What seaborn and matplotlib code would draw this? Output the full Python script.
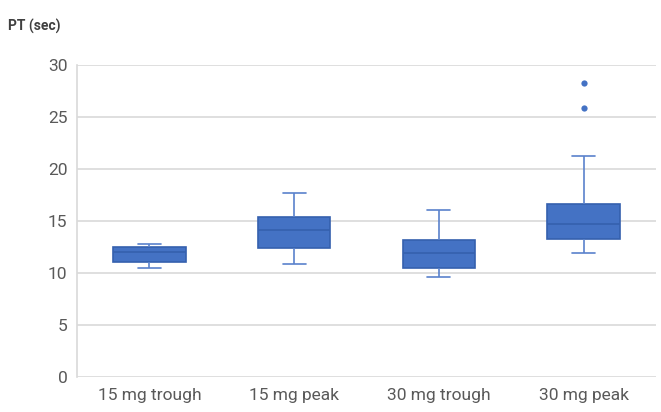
import matplotlib
matplotlib.use('Agg')
import matplotlib.pyplot as plt
import pandas as pd
import seaborn as sns

# five-number summaries (whisker low, Q1, median, Q3, whisker high)
groups = ['15 mg trough', '15 mg peak', '30 mg trough', '30 mg peak']
whisker_low = [10.47, 10.85, 9.58, 11.91]
q1 = [11.08, 12.39, 10.44, 13.26]
median = [12.04, 14.09, 11.91, 14.73]
q3 = [12.46, 15.37, 13.19, 16.65]
whisker_high = [12.78, 17.65, 16.01, 21.26]
outlier_group = ['30 mg peak', '30 mg peak']
outlier_values = [25.81, 28.24]

sns.set_theme(style="white")
plt.rcParams['font.family'] = ['Roboto', 'DejaVu Sans']

rows = []
for i, g in enumerate(groups):
    for v in (whisker_low[i], q1[i], median[i], q3[i], whisker_high[i]):
        rows.append({'group': g, 'pt': v})
df = pd.DataFrame(rows)
df_out = pd.DataFrame({'group': outlier_group, 'pt': outlier_values})

fill = '#4472C4'
edge = '#3560AE'
whisk = '#5A82CC'

fig = plt.figure(figsize=(6.61, 4.12), dpi=100)
ax = fig.add_axes([0.1165, 0.085, 0.876, 0.758])

sns.boxplot(data=df, x='group', y='pt', order=groups, ax=ax, width=0.5,
            whis=1.5, showfliers=False,
            boxprops=dict(facecolor=fill, edgecolor=edge, linewidth=1.2),
            medianprops=dict(color=edge, linewidth=1.2),
            whiskerprops=dict(color=whisk, linewidth=1.2),
            capprops=dict(color=whisk, linewidth=1.2),
            capwidths=0.16)
sns.stripplot(data=df_out, x='group', y='pt', order=groups, ax=ax, jitter=False,
              color=fill, size=4.5, linewidth=0)

ax.set_ylim(0, 30)
ax.set_xlim(-0.5, 3.5)
ax.set_yticks(range(0, 31, 5))
ax.yaxis.grid(True, color='#D9D9D9', linewidth=1.2)
ax.set_axisbelow(True)
for s in ['top', 'right', 'bottom']:
    ax.spines[s].set_visible(False)
ax.spines['left'].set_color('#D9D9D9')
ax.spines['left'].set_linewidth(1.2)
ax.tick_params(axis='both', length=0, labelsize=12.5, labelcolor='#595959')
ax.tick_params(axis='y', pad=7)
ax.tick_params(axis='x', pad=8)
ax.set_xlabel('')
ax.set_ylabel('')

fig.text(0.012, 0.925, 'PT (sec)', fontsize=10, fontweight='bold', color='#404040')

fig.savefig('out.png', dpi=100)
